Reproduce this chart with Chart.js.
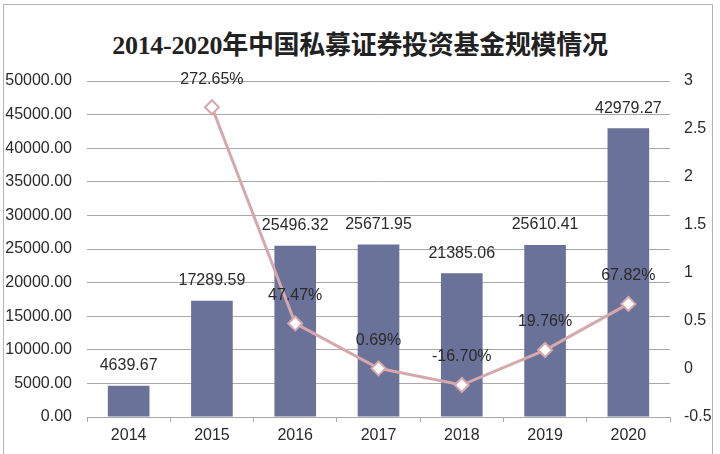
<!DOCTYPE html>
<html>
<head>
<meta charset="utf-8">
<script src="https://cdn.jsdelivr.net/npm/chart.js@4"></script>
<style>
  html, body { margin: 0; padding: 0; background: #fff; overflow: hidden; }
  #wrap { position: relative; width: 720px; height: 454px; }
  #frame { position: absolute; left: 3px; top: 4px; width: 710px; height: 470px; border: 1px solid #b4b4b4; box-sizing: border-box; }
  #title { position: absolute; left: 0; top: 24px; width: 720px; text-align: center;
    font: bold 26px "Liberation Serif", "Noto Sans CJK SC", serif; color: #222; letter-spacing: -0.3px; }
  canvas { position: absolute; left: 0; top: 0; }
</style>
</head>
<body>
<div id="wrap">
  <div id="frame"></div>
  <div id="title">2014-2020年中国私募证券投资基金规模情况</div>
  <canvas id="chart" width="720" height="454"></canvas>
</div>
<script>
const years = ['2014', '2015', '2016', '2017', '2018', '2019', '2020'];
const fundSize = [4639.67, 17289.59, 25496.32, 25671.95, 21385.06, 25610.41, 42979.27];
const growth = [null, 2.7265, 0.4747, 0.0069, -0.1670, 0.1976, 0.6782];
const growthText = ['', '272.65%', '47.47%', '0.69%', '-16.70%', '19.76%', '67.82%'];

const BAR_COLOR = '#6a7299';
const LINE_COLOR = '#d6a8ab';
const TEXT_COLOR = '#2a2a2a';
const GRID_COLOR = '#a8a8a8';
const FONT = { family: "'Liberation Sans', Arial, sans-serif", size: 16 };

const valueLabels = {
  id: 'valueLabels',
  afterDatasetsDraw(chart) {
    const ctx = chart.ctx;
    ctx.save();
    ctx.font = `${FONT.size}px ${FONT.family}`;
    ctx.fillStyle = TEXT_COLOR;
    ctx.textAlign = 'center';
    ctx.textBaseline = 'middle';
    chart.getDatasetMeta(0).data.forEach((el, i) => {
      ctx.fillText(fundSize[i].toFixed(2), el.x, el.y - 20);
    });
    chart.getDatasetMeta(1).data.forEach((el, i) => {
      if (growth[i] === null) return;
      ctx.fillText(growthText[i], el.x, el.y - 28);
    });
    ctx.restore();
  }
};

new Chart(document.getElementById('chart'), {
  data: {
    labels: years,
    datasets: [
      {
        type: 'bar', data: fundSize, yAxisID: 'y', order: 1,
        backgroundColor: BAR_COLOR, barPercentage: 0.5, categoryPercentage: 1.0
      },
      {
        type: 'line', data: growth, yAxisID: 'y1', order: 0,
        borderColor: LINE_COLOR, borderWidth: 3, tension: 0,
        pointStyle: 'rectRot', pointRadius: 7, pointBackgroundColor: '#fff',
        pointBorderColor: LINE_COLOR, pointBorderWidth: 2
      }
    ]
  },
  options: {
    responsive: false, animation: false,
    layout: { padding: { top: 81, left: 0, right: 0, bottom: 0 } },
    plugins: { legend: { display: false }, tooltip: { enabled: false } },
    scales: {
      x: {
        afterFit: (s) => { s.height = 37; },
        grid: { offset: true, drawOnChartArea: false, drawTicks: true, tickLength: 5, color: GRID_COLOR },
        border: { color: GRID_COLOR },
        ticks: { font: FONT, color: TEXT_COLOR, padding: 4 }
      },
      y: {
        position: 'left', min: 0, max: 50000,
        afterFit: (s) => { s.width = 87; },
        grid: { color: GRID_COLOR, drawTicks: false },
        border: { display: false },
        ticks: { stepSize: 5000, font: FONT, color: TEXT_COLOR, padding: 15, callback: (v) => v.toFixed(2) }
      },
      y1: {
        position: 'right', min: -0.5, max: 3,
        afterFit: (s) => { s.width = 50; },
        grid: { drawOnChartArea: false, drawTicks: false },
        border: { display: false },
        ticks: { stepSize: 0.5, font: FONT, color: TEXT_COLOR, padding: 14, callback: (v) => String(Math.round(v * 10) / 10) }
      }
    }
  },
  plugins: [valueLabels]
});
</script>
</body>
</html>
